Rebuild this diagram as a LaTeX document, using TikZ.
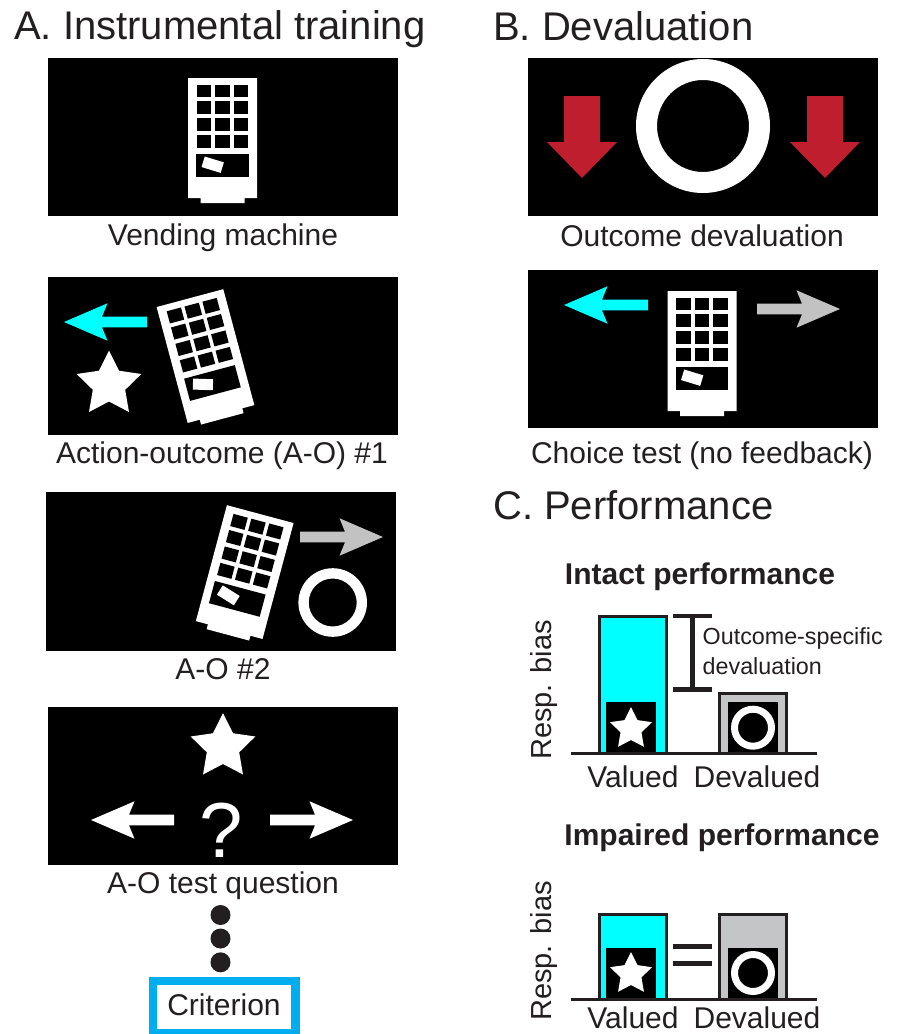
\documentclass[tikz,border=0pt]{standalone}
\usepackage{fontspec}
\setmainfont{Liberation Sans}
\definecolor{ink}{HTML}{231F20}
\definecolor{barcyan}{HTML}{00FFFF}
\definecolor{bargray}{HTML}{C4C5C7}
\definecolor{arrowgray}{HTML}{C2C2C2}
\definecolor{downred}{HTML}{BE1E2D}
\definecolor{critblue}{HTML}{00AEEF}
\tikzset{
 panel/.style={fill=black,draw=none},
 title/.style={anchor=west,inner sep=0pt,text=ink,font=\fontsize{40}{44}\selectfont},
 caption/.style={inner sep=0pt,text=ink,font=\fontsize{30}{33}\selectfont},
 small/.style={inner sep=0pt,text=ink,anchor=west,font=\fontsize{23.3}{26}\selectfont},
 head/.style={inner sep=0pt,text=ink,font=\bfseries\fontsize{30}{33}\selectfont},
 axislab/.style={inner sep=0pt,text=ink,rotate=90,font=\fontsize{29}{32}\selectfont},
 barline/.style={draw=ink,line width=3pt},
 rule/.style={draw=ink,line width=3pt},
}
\newcommand{\vendm}[3]{% x y rotation
\begin{scope}[shift={(#1,#2)},rotate=#3]
 \fill[white] (-34.5,-62) -- (34.5,-62) -- (34.5,58) -- (22,58) -- (22,63) -- (-22,63) -- (-22,58) -- (-34.5,58) -- cycle;
 \foreach \cx in {-18.5,0,18.5}{\foreach \cy in {-49,-32.3,-15.3,1.7}{
   \fill[black] (\cx-7.4,\cy-6.3) rectangle (\cx+7.4,\cy+6.3);}}
 \fill[black] (-26.5,14.3) rectangle (26,37.3);
 \fill[white,shift={(-9.8,24.7)},rotate=-17] (-10,-5.5) rectangle (10,5.5);
\end{scope}}
\newcommand{\starshape}[3]{% x y R
\fill[white,shift={(#1,#2)},scale=#3] (0,-1) -- (.294,-.405) -- (.951,-.309) -- (.476,.155) -- (.588,.809) -- (0,.5) -- (-.588,.809) -- (-.476,.155) -- (-.951,-.309) -- (-.294,-.405) -- cycle;}
\newcommand{\ringshape}[4]{% x y outer inner
\fill[white,even odd rule] (#1,#2) circle (#3) (#1,#2) circle (#4);}
\newcommand{\larrow}[4]{% tipx y tail colour
\fill[#4] (#1,#2) -- (#1+43.5,#2-18.7) -- (#1+38,#2-5.3) -- (#3,#2-5.3) -- (#3,#2+5.3) -- (#1+38,#2+5.3) -- (#1+43.5,#2+18.7) -- cycle;}
\newcommand{\rarrow}[4]{%
\fill[#4] (#1,#2) -- (#1-43.5,#2-18.7) -- (#1-38,#2-5.3) -- (#3,#2-5.3) -- (#3,#2+5.3) -- (#1-38,#2+5.3) -- (#1-43.5,#2+18.7) -- cycle;}
\newcommand{\darrow}[1]{% centre x
\fill[downred] (#1-18,96) -- (#1+18,96) -- (#1+18,142) -- (#1+35,142) -- (#1,178) -- (#1-35,142) -- (#1-18,142) -- cycle;}
\begin{document}
\begin{tikzpicture}[x=1pt,y=-1pt]
\useasboundingbox (0,0) rectangle (899,1034);
% titles
\node[title] (ta) at (14,29) {A. Instrumental training};
\node[title] (tb) at (493,26) {B. Devaluation};
\node[title] (tc) at (493,505) {C. Performance};
% panels
\fill[panel] (48,58) rectangle (398,216);
\fill[panel] (48,277) rectangle (398,435);
\fill[panel] (46,492) rectangle (396,651);
\fill[panel] (48,707) rectangle (398,865);
\fill[panel] (528,58) rectangle (878,216);
\fill[panel] (528,270) rectangle (878,428);
% A1
\vendm{222.5}{140}{0}
\node[caption] (c1) at (223,238) {Vending machine};
% A2
\larrow{64}{322}{147}{barcyan}
\starshape{109}{384.5}{34}
\vendm{206}{358}{15}
\node[caption] (c2) at (222,456) {Action-outcome (A-O) \#1};
% A3
\vendm{244.2}{574}{-15}
\rarrow{383}{537}{300}{arrowgray}
\ringshape{332.7}{602.5}{34.3}{24}
\node[caption] (c3) at (223,669) {A-O \#2};
% A4
\starshape{223}{747}{34}
\larrow{91}{820}{174}{white}
\rarrow{353}{820}{270}{white}
\node[inner sep=0pt,text=white,font=\fontsize{78}{82}\selectfont] (q) at (221,830) {?};
\node[caption] (c4) at (223,886) {A-O test question};
% dots
\fill[ink] (220.5,915) circle (10);
\fill[ink] (220.5,938.5) circle (10);
\fill[ink] (220.5,962.3) circle (10);
% criterion
\draw[critblue,line width=8.3pt] (153.2,981.2) rectangle (295.5,1032.7);
\node[caption] (crit) at (224,1005) {Criterion};
% B1
\darrow{582}
\darrow{825}
\ringshape{703}{126}{67}{46}
\node[caption] (c5) at (702,235.5) {Outcome devaluation};
% B2
\larrow{564}{305}{648}{barcyan}
\rarrow{840}{309}{757}{arrowgray}
\vendm{702}{353}{0}
\node[caption] (c6) at (702,456) {Choice test (no feedback)};
% C intact
\node[head] (h1) at (700,577) {Intact performance};
\node[axislab] (y1) at (544,690) {Resp. bias};
\filldraw[fill=barcyan,barline] (599,753) -- (599,616) -- (666,616) -- (666,753);
\fill[black] (605.7,702) rectangle (656,753);
\starshape{631}{729}{22}
\filldraw[fill=bargray,barline] (719.5,753) -- (719.5,693.5) -- (786,693.5) -- (786,753);
\fill[black] (727.7,702) rectangle (778.3,753);
\ringshape{753}{727.7}{22}{15}
\draw[rule] (571,753) -- (817,753);
\draw[rule,line width=4.5pt] (673.3,616) -- (711.7,616) (692.3,616) -- (692.3,689.3) (673.3,689.3) -- (711.7,689.3);
\node[small] (o1) at (702.5,638) {Outcome-specific};
\node[small] (o2) at (702.5,666) {devaluation};
\node[caption] (v1) at (633,777) {Valued};
\node[caption] (d1) at (757,777) {Devalued};
% C impaired
\node[head] (h2) at (722,838) {Impaired performance};
\node[axislab] (y2) at (544,951) {Resp. bias};
\filldraw[fill=barcyan,barline] (599,999) -- (599,914.5) -- (666,914.5) -- (666,999);
\fill[black] (605.7,948) rectangle (656,999);
\starshape{631}{974}{22}
\filldraw[fill=bargray,barline] (719.5,999) -- (719.5,914.5) -- (786,914.5) -- (786,999);
\fill[black] (727.7,948) rectangle (778.3,999);
\ringshape{753}{973}{22}{15}
\draw[rule] (571,999) -- (817,999);
\fill[ink] (673.3,944) rectangle (711.7,949.3);
\fill[ink] (673.3,960.7) rectangle (711.7,966);
\node[caption] (v2) at (633,1018) {Valued};
\node[caption] (d2) at (757,1018) {Devalued};
\end{tikzpicture}
\end{document}
